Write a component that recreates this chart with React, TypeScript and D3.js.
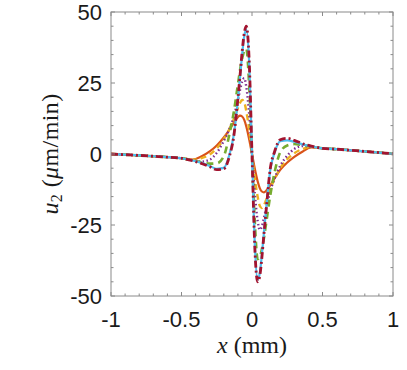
import React, { useEffect, useRef } from 'react'
import * as d3 from 'd3'

// x positions (mm) sampled along the curves
const xs = [-1, -0.9, -0.8, -0.7, -0.6, -0.5, -0.42, -0.36, -0.3, -0.25, -0.2, -0.16, -0.13, -0.1, -0.085, -0.07, -0.055, -0.04, -0.02, 0,
  0.02, 0.04, 0.055, 0.07, 0.085, 0.1, 0.13, 0.16, 0.2, 0.25, 0.3, 0.36, 0.42, 0.5, 0.6, 0.7, 0.8, 0.9, 1]

const orangeY = [0, -0.25, -0.5, -0.8, -1.1, -1.5, -2.0, -0.9, 0.9, 3.0, 5.8, 8.6, 11, 13.0, 13.5, 13.2, 12.0, 9.6, 5.2, 0,
  -5.2, -9.6, -12.0, -13.2, -13.5, -13.0, -11, -8.6, -5.6, -3.0, -1.0, 0.9, 2.3, 2.0, 1.7, 1.3, 0.9, 0.5, 0.05]
const yellowY = [0, -0.25, -0.5, -0.8, -1.1, -1.5, -2.1, -1.5, -0.2, 2.0, 5.2, 8.8, 12.2, 16.2, 18.0, 19.0, 18.2, 15.0, 8.5, 0,
  -8.5, -15.0, -18.2, -19.0, -18.0, -16.2, -12.2, -8.8, -5.0, -1.8, 0.3, 1.8, 2.5, 2.0, 1.7, 1.3, 0.9, 0.5, 0.05]
const purpleY = [0, -0.25, -0.5, -0.8, -1.1, -1.5, -2.2, -2.7, -2.0, 0.4, 4.6, 8.8, 13.0, 19.0, 22.5, 25.5, 26.7, 23.5, 14, 0,
  -14, -23.5, -26.7, -25.5, -22.5, -19.0, -13.0, -8.6, -4.2, -0.6, 1.8, 2.8, 2.6, 2.0, 1.7, 1.3, 0.9, 0.5, 0.05]
const greenY = [0, -0.25, -0.5, -0.8, -1.1, -1.5, -2.2, -2.9, -3.4, -3.3, -0.8, 7.0, 14.5, 24.5, 29.5, 33.5, 36.3, 37.0, 24, 0,
  -24, -37.0, -36.3, -33.5, -29.5, -24.5, -14.5, -6.5, 0.6, 3.0, 3.5, 3.1, 2.7, 2.0, 1.7, 1.3, 0.9, 0.5, 0.05]
const cyanY = [0, -0.25, -0.5, -0.8, -1.1, -1.5, -2.3, -3.1, -4.2, -5.2, -4.9, -0.2, 6.5, 19.0, 27, 35, 41.5, 43.8, 32, 0,
  -32, -44.2, -42, -35.5, -27.5, -19.5, -5.5, 0.5, 4.5, 4.8, 4.3, 3.4, 2.7, 2.0, 1.7, 1.3, 0.9, 0.5, 0.05]
const redY = [0, -0.25, -0.5, -0.8, -1.1, -1.5, -2.4, -3.3, -4.5, -5.5, -5.2, -0.8, 6.0, 19.5, 27.5, 36, 42.5, 45, 33, 0,
  -33, -45, -43, -36.5, -28, -20, -5.0, 0.8, 5.0, 5.5, 4.8, 3.6, 2.8, 2.0, 1.7, 1.3, 0.9, 0.5, 0.05]

const xTicks = [-1, -0.5, 0, 0.5, 1]
const xTickLabels = ['-1', '-0.5', '0', '0.5', '1']
const yTicks = [-50, -25, 0, 25, 50]
const yTickLabels = ['-50', '-25', '0', '25', '50']

const series = [
  { y: orangeY, color: '#D95319', dash: null, w: 2.2 },
  { y: yellowY, color: '#EDB120', dash: '6,4', w: 2.4 },
  { y: purpleY, color: '#7E2F8E', dash: '1.5,2.5', w: 2.4 },
  { y: greenY, color: '#77AC30', dash: '7,5', w: 2.6 },
  { y: cyanY, color: '#4DBEEE', dash: null, w: 2.2 },
  { y: redY, color: '#A2142F', dash: '7,3,2,3', w: 2.8 },
]

export default function App() {
  const ref = useRef<SVGSVGElement>(null)

  useEffect(() => {
    const W = 407, H = 370
    const left = 111, right = 393, top = 12, bottom = 296
    const svg = d3.select(ref.current)
    svg.selectAll('*').remove()

    const x = d3.scaleLinear().domain([-1, 1]).range([left, right])
    const y = d3.scaleLinear().domain([-50, 50]).range([bottom, top])

    const clip = svg.append('clipPath').attr('id', 'plotclip')
    clip.append('rect').attr('x', left).attr('y', top).attr('width', right - left).attr('height', bottom - top)

    const line = d3.line<number>()
      .x((d, i) => x(xs[i]))
      .y(d => y(d))
      .curve(d3.curveMonotoneX)

    const g = svg.append('g').attr('clip-path', 'url(#plotclip)')
    series.forEach(s => {
      const p = g.append('path')
        .attr('d', line(s.y))
        .attr('fill', 'none')
        .attr('stroke', s.color)
        .attr('stroke-width', s.w)
        .attr('stroke-linejoin', 'round')
      if (s.dash) p.attr('stroke-dasharray', s.dash)
    })

    // box
    const axisColor = '#8a8a8a'
    svg.append('rect')
      .attr('x', left).attr('y', top)
      .attr('width', right - left).attr('height', bottom - top)
      .attr('fill', 'none').attr('stroke', axisColor).attr('stroke-width', 1)

    // minor + major ticks, pointing inwards on all four sides
    const xMinor = d3.range(-10, 11).map(i => i / 10)
    const yMinor = d3.range(-10, 11).map(i => i * 5)
    const tk = svg.append('g').attr('stroke', axisColor).attr('stroke-width', 1)
    xMinor.forEach(v => {
      const len = xTicks.some(t => Math.abs(t - v) < 1e-9) ? 4 : 2.5
      tk.append('line').attr('x1', x(v)).attr('x2', x(v)).attr('y1', bottom).attr('y2', bottom - len)
      tk.append('line').attr('x1', x(v)).attr('x2', x(v)).attr('y1', top).attr('y2', top + len)
    })
    yMinor.forEach(v => {
      const len = yTicks.includes(v) ? 4 : 2.5
      tk.append('line').attr('y1', y(v)).attr('y2', y(v)).attr('x1', left).attr('x2', left + len)
      tk.append('line').attr('y1', y(v)).attr('y2', y(v)).attr('x1', right).attr('x2', right - len)
    })

    const font = '"Liberation Sans", Arial, sans-serif'
    svg.append('g').selectAll('text')
      .data(xTicks)
      .enter()
      .append('text')
      .attr('x', d => x(d))
      .attr('y', 327)
      .attr('text-anchor', 'middle')
      .attr('font-family', font)
      .attr('font-size', 22)
      .attr('fill', '#1a1a1a')
      .text((d, i) => xTickLabels[i])

    svg.append('g').selectAll('text')
      .data(yTicks)
      .enter()
      .append('text')
      .attr('x', 102)
      .attr('y', d => y(d))
      .attr('dy', '0.36em')
      .attr('text-anchor', 'end')
      .attr('font-family', font)
      .attr('font-size', 22)
      .attr('fill', '#1a1a1a')
      .text((d, i) => yTickLabels[i])

    const serif = '"Liberation Serif", "DejaVu Serif", serif'
    const xl = svg.append('text')
      .attr('x', 252).attr('y', 353)
      .attr('text-anchor', 'middle')
      .attr('font-family', serif)
      .attr('font-size', 24)
      .attr('fill', '#1a1a1a')
    xl.append('tspan').attr('font-style', 'italic').text('x')
    xl.append('tspan').text(' (mm)')

    const yl = svg.append('text')
      .attr('transform', 'translate(58,154) rotate(-90)')
      .attr('text-anchor', 'middle')
      .attr('font-family', serif)
      .attr('font-size', 24)
      .attr('letter-spacing', 0.4)
      .attr('fill', '#1a1a1a')
    yl.append('tspan').attr('font-style', 'italic').text('u')
    yl.append('tspan').attr('font-size', 16).attr('dy', 4).text('2')
    yl.append('tspan').attr('dy', -4).text(' (')
    yl.append('tspan').attr('font-style', 'italic').text('μ')
    yl.append('tspan').text('m/min)')

    svg.attr('width', W).attr('height', H)
  }, [])

  return (
    <svg ref={ref} width={407} height={370}
      style={{ position: 'absolute', left: 0, top: 0, background: '#fff' }} />
  )
}
